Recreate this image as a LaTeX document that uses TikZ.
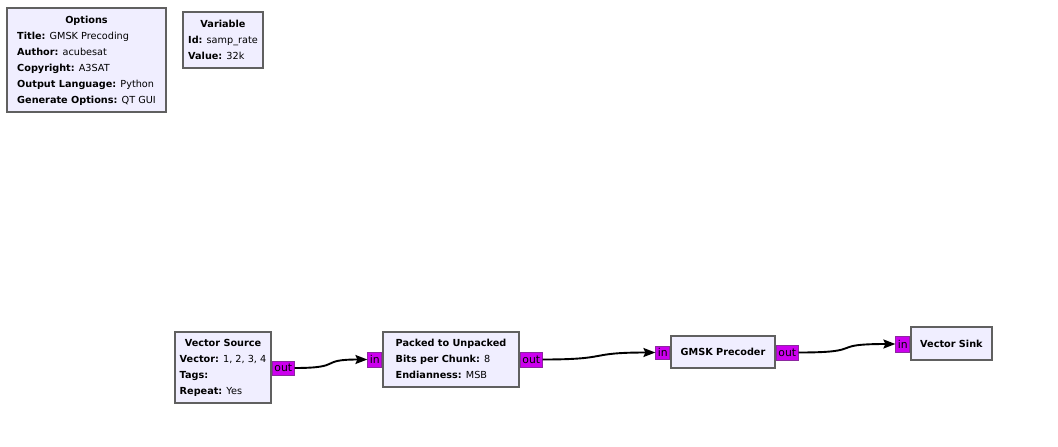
\documentclass[tikz,border=0pt]{standalone}
\usepackage{fontspec}
\setmainfont{DejaVu Sans}
\usetikzlibrary{positioning, arrows.meta}

\definecolor{blockfill}{RGB}{240,238,255}
\definecolor{blockline}{RGB}{96,96,96}
\definecolor{portfill}{RGB}{204,0,238}
\definecolor{portline}{RGB}{140,40,160}

\begin{document}
\begin{tikzpicture}[
  x=1pt, y=-1pt,
  % ---- Style definitions ----
  block/.style={
    draw=blockline, fill=blockfill, line width=1.8pt,
    inner sep=0pt, align=left,
    font=\fontsize{9.7}{16}\selectfont
  },
  port/.style={
    draw=portline, fill=portfill, line width=0.6pt,
    inner sep=0pt, font=\fontsize{10.8}{12}\selectfont
  },
  wire/.style={
    -{Stealth[length=12pt, width=9pt, inset=2pt]}, line width=1.9pt, color=black
  },
]
\useasboundingbox (0,0) rectangle (1058,447);

% ---- Top blocks ----
\node[block, minimum width=159, minimum height=104] (opts) at (86.5,60)
  {\begin{tabular}{@{}l@{}}\multicolumn{1}{@{}c@{}}{\textbf{Options}}\\
   \textbf{Title:} GMSK Precoding\\
   \textbf{Author:} acubesat\\
   \textbf{Copyright:} A3SAT\\
   \textbf{Output Language:} Python\\
   \textbf{Generate Options:} QT GUI\end{tabular}};

\node[block, minimum width=80, minimum height=56] (var) at (223,40)
  {\begin{tabular}{@{}l@{}}\multicolumn{1}{@{}c@{}}{\textbf{Variable}}\\
   \textbf{Id:} samp\_rate\\
   \textbf{Value:} 32k\end{tabular}};

% ---- Flow blocks (left to right) ----
\node[block, minimum width=96, minimum height=71] (vsrc) at (223,367.5)
  {\begin{tabular}{@{}l@{}}\multicolumn{1}{@{}c@{}}{\textbf{Vector Source}}\\
   \textbf{Vector:} 1, 2, 3, 4\\
   \textbf{Tags:}\\
   \textbf{Repeat:} Yes\end{tabular}};

\node[block, minimum width=136, minimum height=55] (p2u) at (451,359.5)
  {\begin{tabular}{@{}l@{}}\multicolumn{1}{@{}c@{}}{\textbf{Packed to Unpacked}}\\
   \textbf{Bits per Chunk:} 8\\
   \textbf{Endianness:} MSB\end{tabular}};

\node[block, minimum width=104, minimum height=32] (prec) at (723,352)
  {\textbf{GMSK Precoder}};

\node[block, minimum width=81, minimum height=33] (sink) at (951.5,343.5)
  {\textbf{Vector Sink}};

% ---- Ports ----
\node[port, minimum width=22, minimum height=14, anchor=west] (vsrc_out) at (272,368) {out};
\node[port, minimum width=14, minimum height=15, anchor=east] (p2u_in) at (382,359.5) {in};
\node[port, minimum width=22, minimum height=15, anchor=west] (p2u_out) at (520,359.5) {out};
\node[port, minimum width=14, minimum height=13, anchor=east] (prec_in) at (670,352.5) {in};
\node[port, minimum width=22, minimum height=15, anchor=west] (prec_out) at (776,352.5) {out};
\node[port, minimum width=14, minimum height=16, anchor=east] (sink_in) at (910,344) {in};

% ---- Connections ----
\draw[wire] (vsrc_out.east) .. controls +(50,0) and +(-50,0) .. (p2u_in.west);
\draw[wire] (p2u_out.east) .. controls +(70,0) and +(-70,0) .. (prec_in.west);
\draw[wire] (prec_out.east) .. controls +(70,0) and +(-70,0) .. (sink_in.west);

\end{tikzpicture}
\end{document}
